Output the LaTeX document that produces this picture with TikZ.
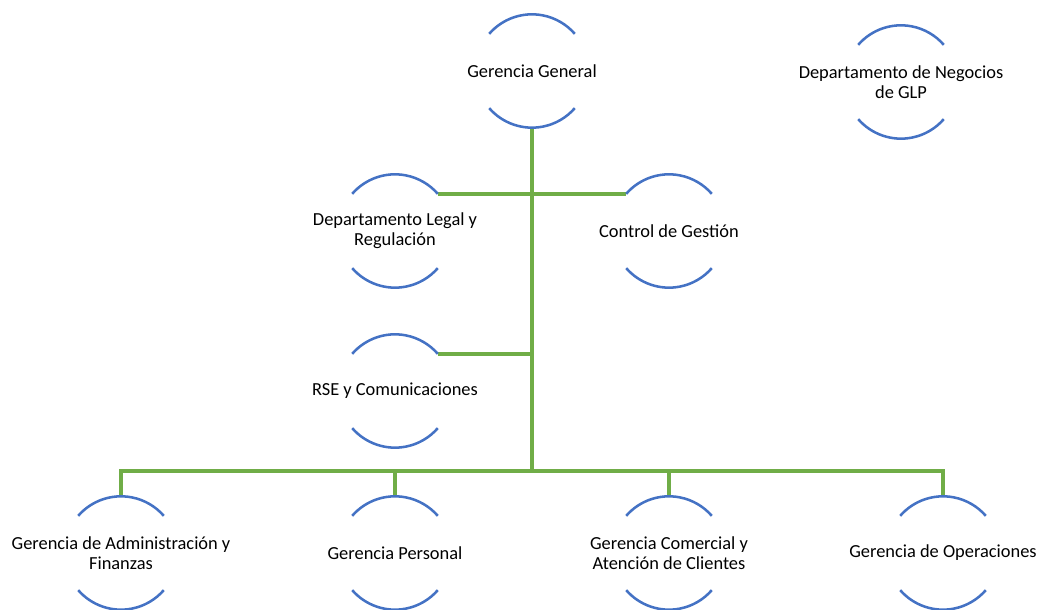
\documentclass[tikz,border=0pt]{standalone}
\usepackage{fontspec}
\setmainfont{Carlito}
\usetikzlibrary{positioning}

\definecolor{arcblue}{HTML}{4472C4}
\definecolor{linkgreen}{HTML}{70AD47}

\begin{document}
\begin{tikzpicture}[
        x=0.75pt, y=0.75pt,
        unit/.style={circle, minimum size=85pt, inner sep=0pt, outer sep=0pt},
        caption/.style={align=center, font=\fontsize{13.8}{15}\selectfont},
        arcline/.style={draw=arcblue, line width=1.9pt},
        link/.style={draw=linkgreen, line width=2.6pt},
    ]
        \useasboundingbox (0,0) rectangle (1040,610);

        % Gerencia y departamento aparte
        \node[unit, label={[caption]center:Gerencia General}] (gg) at (532,539) {};
        \node[unit, label={[caption]center:Departamento de Negocios\\de GLP}] (glp) at (901,528) {};

        % staff
        \node[unit, label={[caption]center:Departamento Legal y\\Regulación}] (legal) at (395,379) {};
        \node[unit, label={[caption]center:Control de Gestión}] (ctrl) at (669,379) {};
        \node[unit, label={[caption]center:RSE y Comunicaciones}] (rse) at (395,219) {};

        % gerencias de linea
        \node[unit, label={[caption]center:Gerencia de Administración y\\Finanzas}] (adm) at (121,57) {};
        \node[unit, label={[caption]center:Gerencia Personal}] (per) at (395,57) {};
        \node[unit, label={[caption]center:Gerencia Comercial y\\Atención de Clientes}] (com) at (669,57) {};
        \node[unit, label={[caption]center:Gerencia de Operaciones}] (ope) at (943,57) {};

        \coordinate (bus) at (532,139);

        % conectores
        \draw[link] (gg.south) -- (bus);
        \draw[link] (legal.41) -- (ctrl.139);
        \draw[link] (rse.41) -- (rse.41 -| gg.south);
        \draw[link] (adm.north) |- (bus) -| (ope.north);
        \draw[link] (per.north) -- (per.north |- bus);
        \draw[link] (com.north) -- (com.north |- bus);

        % arcos
        \foreach \n in {gg,glp,legal,ctrl,rse,adm,per,com,ope} {
            \draw[arcline] (\n.139) arc[start angle=139, end angle=41, radius=42.5pt];
            \draw[arcline] (\n.221) arc[start angle=221, end angle=319, radius=42.5pt];
        }

    \end{tikzpicture}
\end{document}
